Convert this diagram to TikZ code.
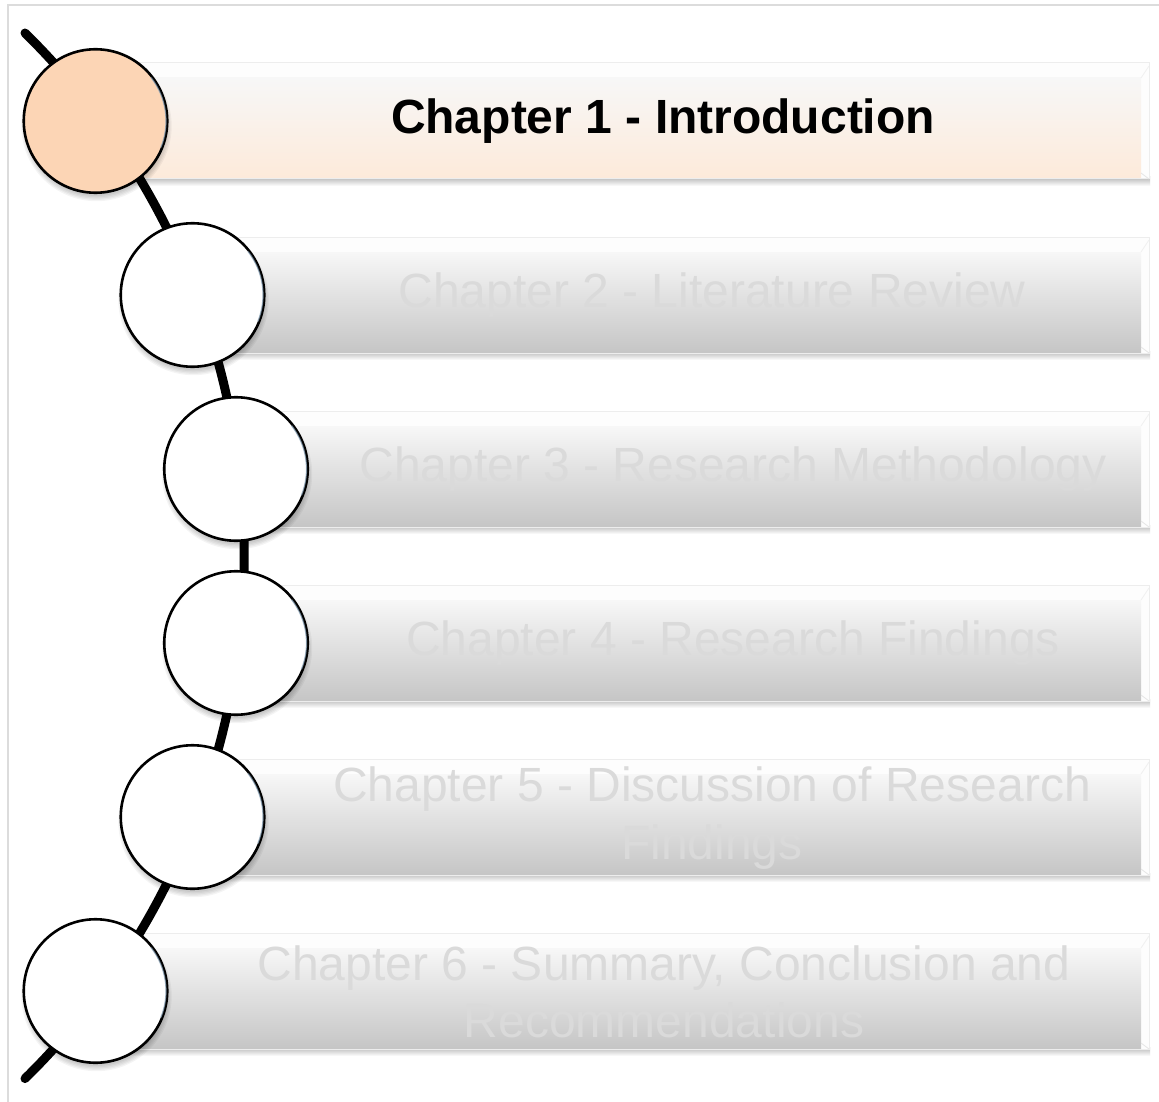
\documentclass[tikz,border=0pt]{standalone}
\usepackage{fontspec}
\setmainfont{Liberation Sans}
\usetikzlibrary{calc}

\definecolor{framegray}{HTML}{DCDCDC}
\definecolor{peach}{HTML}{FCD5B5}
\definecolor{peachlow}{HTML}{FDEADA}
\definecolor{bartop}{HTML}{F7F7F7}
\definecolor{barlow}{HTML}{C6C6C6}
\definecolor{bevel}{HTML}{FDFDFD}
\definecolor{fadedtext}{HTML}{DADADA}
\definecolor{rim}{HTML}{8FA9BF}

\tikzset{
  stepcircle/.style={circle, draw=black, line width=2.6, inner sep=0,
    minimum size=143.5},
  chaptertext/.style={font=\fontsize{48}{57.6}\selectfont, align=center,
    inner sep=0},
  fadedlabel/.style={chaptertext, text=fadedtext},
  activelabel/.style={chaptertext, text=black, font=\fontsize{48}{57.6}\selectfont\bfseries},
  timeline/.style={line width=9, line cap=round, black},
}

% one bevelled bar: #1 left x, #2 centre y, #3 top colour, #4 bottom colour
\newcommand\chapterbar[4]{%
  \shade[top color=black!28, bottom color=white]
    (#1,#2+56) rectangle (1150,#2+65);
  \fill[bevel, draw=black!7, line width=1] (#1,#2-58) rectangle (1149,#2+58);
  \shade[top color=#3, bottom color=#4]
    (#1,#2-43) rectangle (1141,#2+57);
  \draw[black!6, line width=0.8] (1141,#2-43) -- (1149,#2-55);
  \draw[black!10, line width=0.8] (1141,#2+52) -- (1149,#2+58);
}

% soft shadow under a step circle: #1 centre x, #2 centre y
\newcommand\circleshadow[2]{%
  \foreach \k in {0,...,4}{
    \fill[black, opacity=0.045] (#1+1,#2+5) circle (70+\k*1.3);
  }
}

% light rim on the right-hand side of a circle: #1 node name
\newcommand\circlerim[1]{%
  \draw[rim, line width=1.2, opacity=0.7]
    ($(#1.center)+(-38:70.5)$) arc[start angle=-38, end angle=22, radius=70.5];
}

\begin{document}
\begin{tikzpicture}[x=1pt, y=-1pt]
  \useasboundingbox (0,0) rectangle (1159,1102);
  \fill[white] (0,0) rectangle (1159,1102);

  % frame
  \draw[framegray, line width=1.6] (8,1110) -- (8,5) -- (1170,5);

  % bars
  \chapterbar{95.5}{121}{bartop}{peachlow}
  \chapterbar{192.5}{295}{bartop}{barlow}
  \chapterbar{236}{469}{bartop}{barlow}
  \chapterbar{236}{643}{bartop}{barlow}
  \chapterbar{192.5}{817}{bartop}{barlow}
  \chapterbar{95.5}{991}{bartop}{barlow}

  % timeline arc
  \coordinate (arcstart) at (25,33);
  \draw[timeline] (arcstart) arc[start angle=-45.5, end angle=45.5, radius=733];

  % step circles
  \circleshadow{95.5}{121}
  \circleshadow{192.5}{295}
  \circleshadow{236}{469}
  \circleshadow{236}{643}
  \circleshadow{192.5}{817}
  \circleshadow{95.5}{991}

  \node[stepcircle, fill=peach] (c1) at (95.5,121) {};
  \node[stepcircle, fill=white] (c2) at (192.5,295) {};
  \node[stepcircle, fill=white] (c3) at (236,469) {};
  \node[stepcircle, fill=white] (c4) at (236,643) {};
  \node[stepcircle, fill=white] (c5) at (192.5,817) {};
  \node[stepcircle, fill=white] (c6) at (95.5,991) {};
  \foreach \c in {c1,c2,c3,c4,c5,c6}{\circlerim{\c}}

  % chapter titles
  \node[activelabel] (t1) at (663,121) {Chapter 1 - Introduction};
  \node[fadedlabel] (t2) at (712,295) {Chapter 2 - Literature Review};
  \node[fadedlabel] (t3) at (733,469) {Chapter 3 - Research Methodology};
  \node[fadedlabel] (t4) at (733,643) {Chapter 4 - Research Findings};
  \node[fadedlabel] (t5) at (712,818) {Chapter 5 - Discussion of Research\\Findings};
  \node[fadedlabel] (t6) at (664,992) {Chapter 6 - Summary, Conclusion and\\Recommendations};
\end{tikzpicture}
\end{document}
